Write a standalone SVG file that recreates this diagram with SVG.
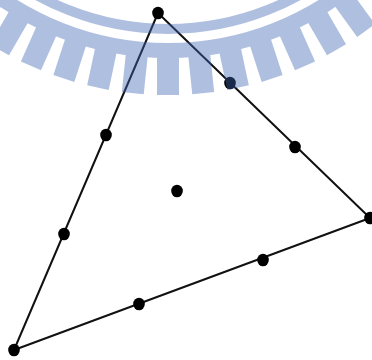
<svg xmlns="http://www.w3.org/2000/svg" width="372" height="360" viewBox="0 0 372 360">
<style>
.edge{stroke:#111;stroke-width:2;fill:none;stroke-linecap:round}
.pt{fill:#000}
.wm{fill:rgb(63,102,180)}
.ring{fill:none;stroke:rgb(63,102,180)}
</style>
<rect width="372" height="360" fill="#fff"/>
<g id="connectors">
<line class="edge" x1="158" y1="13" x2="14" y2="350"/>
<line class="edge" x1="158" y1="13" x2="370" y2="218"/>
<line class="edge" x1="14" y1="350" x2="370" y2="218"/>
</g>
<g id="n1"><ellipse class="pt" cx="158" cy="13" rx="5.8" ry="6.3"/></g>
<g id="n2"><ellipse class="pt" cx="14" cy="350" rx="5.8" ry="6.3"/></g>
<g id="n3"><ellipse class="pt" cx="370" cy="218" rx="5.8" ry="6.3"/></g>
<g id="n4"><ellipse class="pt" cx="106" cy="135" rx="5.8" ry="6.3"/></g>
<g id="n5"><ellipse class="pt" cx="64" cy="234" rx="5.8" ry="6.3"/></g>
<g id="n6"><ellipse class="pt" cx="230" cy="83" rx="5.8" ry="6.3"/></g>
<g id="n7"><ellipse class="pt" cx="295" cy="147" rx="5.8" ry="6.3"/></g>
<g id="n8"><ellipse class="pt" cx="139" cy="304" rx="5.8" ry="6.3"/></g>
<g id="n9"><ellipse class="pt" cx="263" cy="260" rx="5.8" ry="6.3"/></g>
<g id="n10"><ellipse class="pt" cx="177" cy="191" rx="5.8" ry="6.3"/></g>
<g id="watermark" opacity="0.41">
<circle class="ring" cx="168" cy="-242" r="271" stroke-width="10"/>
<circle class="ring" cx="168" cy="-242" r="292.5" stroke-width="15"/>
<g class="wm">
<rect x="157" y="57" width="22" height="38" transform="rotate(-36 168 -242)"/>
<rect x="157" y="57" width="22" height="38" transform="rotate(-30 168 -242)"/>
<rect x="157" y="57" width="22" height="38" transform="rotate(-24 168 -242)"/>
<rect x="157" y="57" width="22" height="38" transform="rotate(-18 168 -242)"/>
<rect x="157" y="57" width="22" height="38" transform="rotate(-12 168 -242)"/>
<rect x="157" y="57" width="22" height="38" transform="rotate(-6 168 -242)"/>
<rect x="157" y="57" width="22" height="38"/>
<rect x="157" y="57" width="22" height="38" transform="rotate(6 168 -242)"/>
<rect x="157" y="57" width="22" height="38" transform="rotate(12 168 -242)"/>
<rect x="157" y="57" width="22" height="38" transform="rotate(18 168 -242)"/>
<rect x="157" y="57" width="22" height="38" transform="rotate(24 168 -242)"/>
<rect x="157" y="57" width="22" height="38" transform="rotate(30 168 -242)"/>
<rect x="157" y="57" width="22" height="38" transform="rotate(36 168 -242)"/>
</g>
</g>
</svg>
